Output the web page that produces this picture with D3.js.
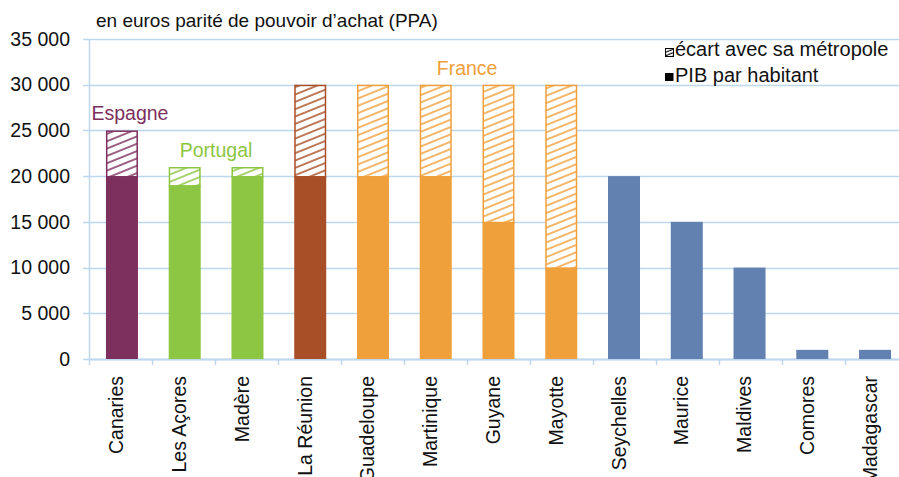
<!DOCTYPE html>
<html>
<head>
<meta charset="utf-8">
<script src="https://cdn.jsdelivr.net/npm/d3@7"></script>
<style>
  body { margin: 0; background: #fff; overflow: hidden; }
  text { font-family: "Liberation Sans", Arial, Helvetica, sans-serif; }
</style>
</head>
<body>
<div id="chart"></div>
<script>
// data
var categories = ["Canaries", "Les Açores", "Madère", "La Réunion", "Guadeloupe", "Martinique",
  "Guyane", "Mayotte", "Seychelles", "Maurice", "Maldives", "Comores", "Madagascar"];
var pibHabitant = [20000, 19000, 20000, 20000, 20000, 20000, 15000, 10000, 20000, 15000, 10000, 1000, 1000];
var metropole = [25000, 21000, 21000, 30000, 30000, 30000, 30000, 30000, null, null, null, null, null];
var groups = ["Espagne", "Portugal", "Portugal", "Réunion", "France", "France", "France", "France",
  "autre", "autre", "autre", "autre", "autre"];
var groupLabels = ["Espagne", "Portugal", "France"];
var yTicks = [0, 5000, 10000, 15000, 20000, 25000, 30000, 35000];
var legendLabels = ["écart avec sa métropole", "PIB par habitant"];
var title = "en euros parité de pouvoir d\u2019achat (PPA)";

var width = 899, height = 477;
var margin = { top: 39, left: 89, bottom: 118 };
var fontSize = 19.5;

var svg = d3.select("#chart").append("svg")
  .attr("width", width).attr("height", height);

var xScale = d3.scaleBand()
  .domain(categories)
  .range([margin.left, margin.left + 63 * categories.length])
  .paddingInner(0.49)
  .paddingOuter(0.27);

var yScale = d3.scaleLinear()
  .domain([0, 35000])
  .range([height - margin.bottom, margin.top]);

var color = d3.scaleOrdinal()
  .domain(["Espagne", "Portugal", "Réunion", "France", "autre"])
  .range(["#7d2f5e", "#8cc642", "#a94f27", "#f0a03a", "#6280b0"]);

var gridColor = "#bdd7ee";

// hatch patterns
var defs = svg.append("defs");
color.domain().concat(["legend"]).forEach(function(g) {
  var c = g === "legend" ? "#000" : color(g);
  var p = defs.append("pattern")
    .attr("id", "hatch-" + g.replace(/\W/g, "x"))
    .attr("patternUnits", "userSpaceOnUse")
    .attr("width", 12)
    .attr("height", g === "legend" ? 3.2 : 6.8)
    .attr("patternTransform", "rotate(-22)");
  p.append("rect").attr("width", 12).attr("height", 7).attr("fill", "#fff");
  p.append("line")
    .attr("x1", 0).attr("x2", 12)
    .attr("y1", 1).attr("y2", 1)
    .attr("stroke", c)
    .attr("stroke-width", g === "legend" ? 1.1 : 1.5);
});
function hatchId(g) { return "url(#hatch-" + g.replace(/\W/g, "x") + ")"; }

// grid lines
svg.append("g")
  .selectAll("line")
  .data(yTicks)
  .enter()
  .append("line")
  .attr("x1", margin.left - 6)
  .attr("x2", width)
  .attr("y1", function(d) { return Math.round(yScale(d)) + 0.5; })
  .attr("y2", function(d) { return Math.round(yScale(d)) + 0.5; })
  .attr("stroke", gridColor)
  .attr("stroke-width", 1.5);

// y axis
var yAxis = d3.axisLeft(yScale)
  .tickValues(yTicks)
  .tickSize(0)
  .tickPadding(19)
  .tickFormat(function(d) { return d3.format(",")(d).replace(",", " "); });

svg.append("g")
  .attr("class", "y-axis")
  .attr("transform", "translate(" + margin.left + ",0)")
  .call(yAxis)
  .call(function(g) {
    g.select(".domain").attr("stroke", gridColor).attr("stroke-width", 1.5);
    g.selectAll("text")
      .attr("font-size", fontSize)
      .attr("font-family", "Liberation Sans, Arial, sans-serif")
      .attr("fill", "#111");
  });

// x axis
var xAxis = d3.axisBottom(xScale).tickSize(0).tickFormat("");
svg.append("g")
  .attr("transform", "translate(0," + yScale(0) + ")")
  .call(xAxis)
  .call(function(g) {
    g.select(".domain").attr("stroke", gridColor).attr("stroke-width", 2);
  });

// separators between categories
svg.append("g")
  .selectAll("line")
  .data(categories.concat(["end"]))
  .enter()
  .append("line")
  .attr("x1", function(d, i) { return margin.left + 63 * i + 0.5; })
  .attr("x2", function(d, i) { return margin.left + 63 * i + 0.5; })
  .attr("y1", yScale(0))
  .attr("y2", yScale(0) + 6)
  .attr("stroke", gridColor)
  .attr("stroke-width", 1.5);

// category labels
svg.append("g")
  .selectAll("text")
  .data(categories)
  .enter()
  .append("text")
  .text(function(d) { return d; })
  .attr("transform", function(d) {
    return "translate(" + (xScale(d) + xScale.bandwidth() / 2 + 1.5) + "," + 376 + ") rotate(-90)";
  })
  .attr("text-anchor", "end")
  .attr("font-size", fontSize)
  .attr("fill", "#111");

// hatched bars (metropole)
svg.append("g")
  .selectAll("rect")
  .data(categories.filter(function(d, i) { return metropole[i] !== null; }))
  .enter()
  .append("rect")
  .attr("x", function(d) { return xScale(d) + 0.75; })
  .attr("width", xScale.bandwidth() - 1.5)
  .attr("y", function(d) { return yScale(metropole[categories.indexOf(d)]) + 0.75; })
  .attr("height", function(d) {
    var i = categories.indexOf(d);
    return yScale(pibHabitant[i]) - yScale(metropole[i]);
  })
  .attr("fill", function(d) { return hatchId(groups[categories.indexOf(d)]); })
  .attr("stroke", function(d) { return color(groups[categories.indexOf(d)]); })
  .attr("stroke-width", 1.5);

// solid bars (PIB par habitant)
svg.append("g")
  .selectAll("rect")
  .data(categories)
  .enter()
  .append("rect")
  .attr("x", function(d) { return xScale(d); })
  .attr("width", xScale.bandwidth())
  .attr("y", function(d, i) { return yScale(pibHabitant[i]); })
  .attr("height", function(d, i) { return yScale(0) - yScale(pibHabitant[i]); })
  .attr("fill", function(d, i) { return color(groups[i]); });

// group labels
groupLabels.forEach(function(g) {
  var members = categories.filter(function(d, i) { return groups[i] === g; });
  var cx = d3.mean(members, function(d) { return xScale(d) + xScale.bandwidth() / 2; });
  var top = d3.max(members, function(d) { return metropole[categories.indexOf(d)]; });
  svg.append("text")
    .attr("x", g === "Espagne" ? cx + 8 : cx)
    .attr("y", yScale(top) - 10)
    .attr("text-anchor", "middle")
    .attr("font-size", fontSize)
    .attr("fill", color(g))
    .text(g);
});

// title
svg.append("text")
  .attr("x", 96)
  .attr("y", 27)
  .attr("font-size", 19)
  .attr("fill", "#111")
  .text(title);

// legend
var legend = svg.append("g").attr("transform", "translate(665,48)");
legend.append("rect")
  .attr("x", 0.5).attr("y", 0.5).attr("width", 8).attr("height", 8)
  .attr("fill", hatchId("legend"))
  .attr("stroke", "#000").attr("stroke-width", 1);
legend.append("rect")
  .attr("x", 0).attr("y", 25).attr("width", 8.5).attr("height", 8)
  .attr("fill", "#000");
legend.selectAll("text.leg")
  .data(legendLabels)
  .enter()
  .append("text")
  .attr("class", "leg")
  .attr("x", 10)
  .attr("y", function(d, i) { return 8 + i * 25.5; })
  .attr("font-size", 20)
  .attr("fill", "#111")
  .text(function(d) { return d; });
</script>
</body>
</html>
